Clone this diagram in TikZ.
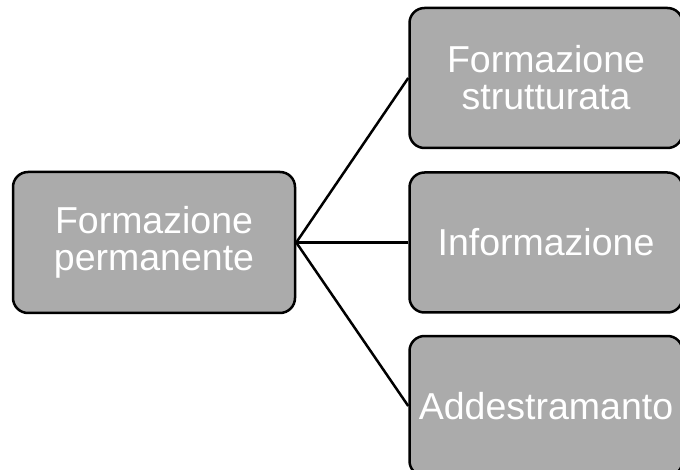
\documentclass[tikz,border=0pt]{standalone}
\usepackage{fontspec}
\setmainfont{Liberation Sans}
\usepackage{tikz}
\usetikzlibrary{positioning}

\begin{document}
\begin{tikzpicture}[x=1pt, y=-1pt,
rootnode/.style={rectangle, rounded corners=15pt, draw=black, fill=black!33, line width=2.5pt, text=white, align=center, font=\fontsize{37.5}{37}\selectfont, minimum width=282pt, minimum height=141pt},
leafnode/.style={rootnode, minimum width=273pt, minimum height=140pt},
]
\useasboundingbox (0,0) rectangle (680,470);
\clip (0,0) rectangle (680,470);
%Nodes
\node[rootnode]      (perm)      at (154,242.5)               {Formazione\\permanente};
\node[leafnode]      (info)      [right=112pt of perm]        {Informazione};
\node[leafnode]      (strutt)    [above=22pt of info]         {Formazione\\strutturata};
\node[leafnode]      (addestr)   [below=21pt of info]         {Addestramanto};

%Lines
\draw[line width=2.5pt] (perm.east) -- (strutt.west);
\draw[line width=2.5pt] (perm.east) -- (info.west);
\draw[line width=2.5pt] (perm.east) -- (addestr.west);
\end{tikzpicture}
\end{document}
